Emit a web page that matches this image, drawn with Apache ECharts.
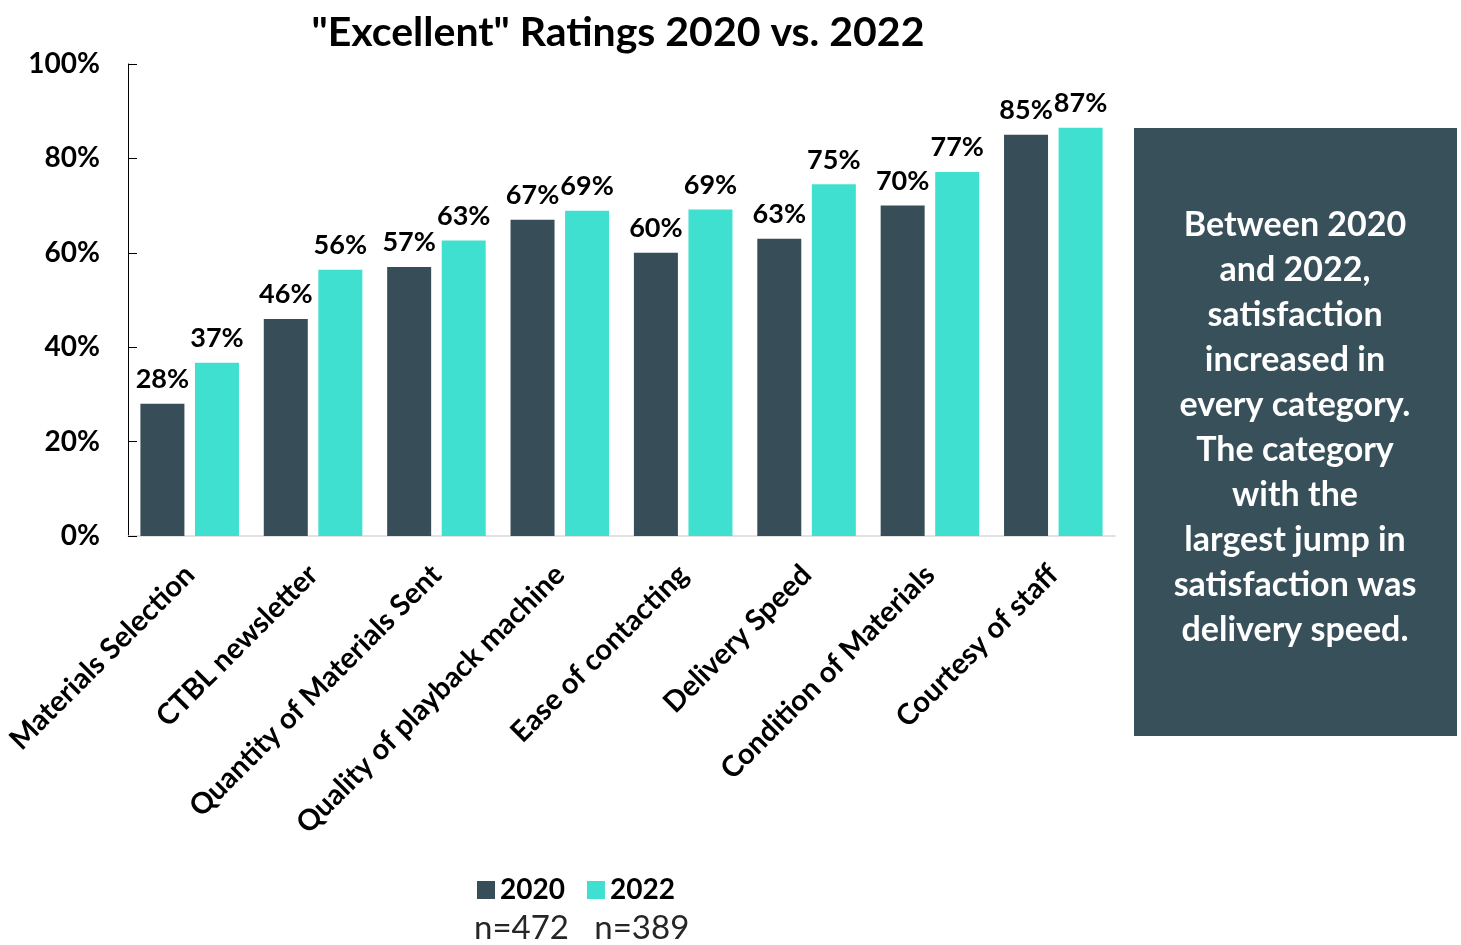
<!DOCTYPE html>
<html>
<head>
<meta charset="utf-8">
<script src="https://cdn.jsdelivr.net/npm/echarts@6/dist/echarts.min.js"></script>
<style>html,body{margin:0;padding:0;background:#fff}#c{width:1461px;height:945px}</style>
</head>
<body>
<div id="c"></div>
<script>
const categories = ["Materials Selection","CTBL newsletter","Quantity of Materials Sent","Quality of playback machine","Ease of contacting","Delivery Speed","Condition of Materials","Courtesy of staff"];
const values2020 = [28, 46, 57, 67, 60, 63, 70, 85];
const values2022 = [36.7, 56.4, 62.6, 68.9, 69.2, 74.5, 77.1, 86.5];
const seriesNames = ["2020", "2022"];
const sampleText = "n=472   n=389";
const noteLines = ["Between 2020","and 2022,","satisfaction","increased in","every category.","The category","with the","largest jump in","satisfaction was","delivery speed."];
const yTicks = [0, 20, 40, 60, 80, 100];

const FONT = 'Lato';
const DARK = '#374E59';
const TEAL = '#40E0D0';
const chart = echarts.init(document.getElementById('c'), null, {renderer:'canvas'});
const labelStyle = {show:true, position:'top', distance:11, color:'#000', fontFamily:FONT, fontWeight:'bold', fontSize:27, formatter: p => Math.round(p.value) + '%'};
chart.setOption({
  animation:false,
  title:{text:'"Excellent" Ratings 2020 vs. 2022', left:613, top:7, textAlign:'center',
    textStyle:{fontFamily:FONT, fontWeight:'bold', fontSize:41, color:'#000'}},
  legend:{data:seriesNames, left:472, top:871, itemWidth:18, itemHeight:18, itemGap:22,
    icon:'rect', textStyle:{fontFamily:FONT, fontWeight:'bold', fontSize:28, color:'#000'}},
  grid:{left:128, right:346, top:64, bottom:409, containLabel:false},
  xAxis:{type:'category', data:categories,
    axisLine:{lineStyle:{color:'#D9D9D9', width:1.5}}, axisTick:{show:false},
    axisLabel:{rotate:45, interval:0, margin:34, color:'#000', fontFamily:FONT, fontWeight:'bold', fontSize:29}},
  yAxis:{type:'value', min:0, max:100, interval:20,
    axisLine:{show:true, lineStyle:{color:'#000', width:1}},
    axisTick:{show:true, inside:true, length:9, lineStyle:{color:'#000'}},
    splitLine:{show:false},
    axisLabel:{margin:28, color:'#000', fontFamily:FONT, fontWeight:'bold', fontSize:28, formatter: v => v + '%'}},
  series:[
    {name:seriesNames[0], type:'bar', data:values2020, barWidth:44, barGap:'24%', itemStyle:{color:DARK}, label:labelStyle},
    {name:seriesNames[1], type:'bar', data:values2022, barWidth:44, itemStyle:{color:TEAL}, label:labelStyle}
  ],
  graphic:[
    {type:'rect', shape:{x:1134, y:128, width:323, height:608}, style:{fill:'#37505A'}},
    {type:'text', x:1295, y:203, style:{text:noteLines.join('\n'), fill:'#fff', fontFamily:FONT, fontWeight:'bold', fontSize:34, lineHeight:45, textAlign:'center', textVerticalAlign:'top'}},
    {type:'text', left:474, top:912, style:{text:sampleText, fill:'#262626', fontFamily:FONT, fontSize:33}}
  ]
});
</script>
</body>
</html>
